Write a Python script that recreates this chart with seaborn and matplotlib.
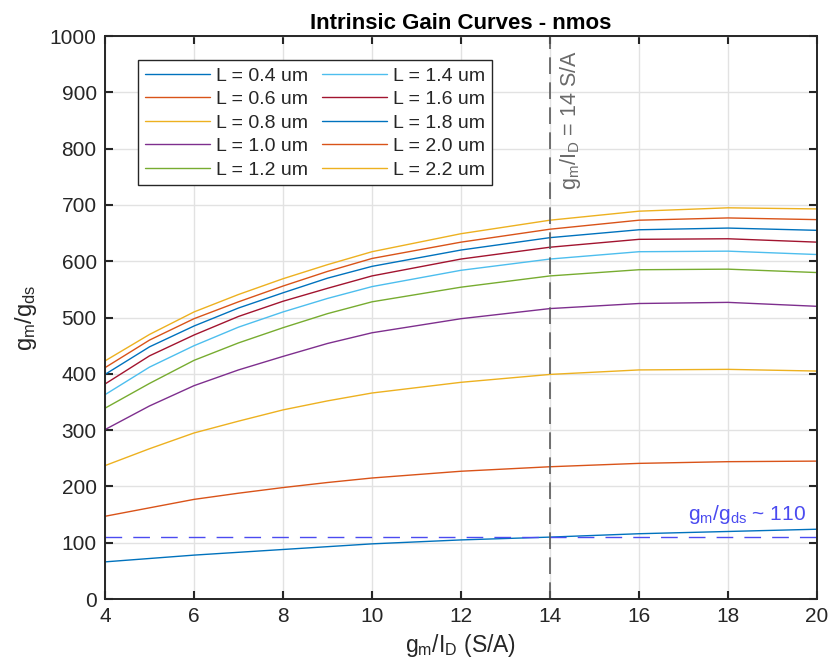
import numpy as np
import pandas as pd
import matplotlib
matplotlib.use("Agg")
import matplotlib.pyplot as plt
import seaborn as sns

# gm/ID sweep points (S/A)
gm_id = [4, 5, 6, 7, 8, 9, 10, 12, 14, 16, 18, 20]

# channel lengths (um)
lengths = [0.4, 0.6, 0.8, 1.0, 1.2, 1.4, 1.6, 1.8, 2.0, 2.2]

# intrinsic gain gm/gds for each channel length
gain_L04 = [66, 72, 78, 83, 88, 93, 98, 105, 110, 116, 120, 124]
gain_L06 = [147, 162, 177, 188, 198, 207, 215, 227, 235, 241, 244, 245]
gain_L08 = [237, 267, 295, 316, 336, 352, 366, 385, 399, 407, 408, 405]
gain_L10 = [301, 343, 379, 407, 431, 454, 473, 498, 516, 525, 527, 520]
gain_L12 = [339, 383, 424, 455, 482, 507, 528, 554, 574, 585, 586, 580]
gain_L14 = [363, 412, 450, 483, 510, 534, 555, 584, 604, 617, 618, 612]
gain_L16 = [382, 432, 469, 502, 529, 552, 574, 604, 625, 639, 640, 634]
gain_L18 = [399, 448, 485, 517, 544, 570, 591, 620, 642, 656, 659, 655]
gain_L20 = [411, 460, 498, 528, 556, 582, 605, 634, 657, 673, 677, 674]
gain_L22 = [423, 470, 510, 541, 569, 594, 617, 649, 673, 689, 695, 693]

gains = [gain_L04, gain_L06, gain_L08, gain_L10, gain_L12,
         gain_L14, gain_L16, gain_L18, gain_L20, gain_L22]

gm_id_target = 14
gain_target = 110

labels = [f"L = {L:.1f} um" for L in lengths]
frames = []
for lab, g in zip(labels, gains):
    frames.append(pd.DataFrame({"gm_id": gm_id, "gain": g, "L": lab}))
df = pd.concat(frames, ignore_index=True)

palette = ["#0072BD", "#D95319", "#EDB120", "#7E2F8E", "#77AC30",
           "#4DBEEE", "#A2142F", "#0072BD", "#D95319", "#EDB120"]

sns.set_theme(style="white")
plt.rcParams["font.family"] = ["Liberation Sans", "DejaVu Sans"]
plt.rcParams["mathtext.fontset"] = "custom"
plt.rcParams["mathtext.rm"] = "Liberation Sans"

fig = plt.figure(figsize=(8.32, 6.69), dpi=100)
ax = fig.add_axes([0.1262, 0.1046, 0.8558, 0.8414])

sns.lineplot(data=df, x="gm_id", y="gain", hue="L", hue_order=labels,
             palette=palette, linewidth=1.0, ax=ax, sort=False)

# reference lines
ax.axhline(gain_target, color="#4B4BF0", linewidth=1.0, dashes=(12, 8))
ax.axvline(gm_id_target, color="#5A5A5A", linewidth=1.2, dashes=(10, 5))

ax.text(17.1, 140, r"$\mathregular{g_m/g_{ds}}$ ~ 110", color="#4B4BF0",
        fontsize=15, ha="left", va="baseline")
ax.text(14.47, 727, r"$\mathregular{g_m/I_D}$ = 14 S/A", color="#6A6A6A",
        fontsize=15.5, ha="center", va="bottom", rotation=90)

ax.set_xlim(4, 20)
ax.set_ylim(0, 1000)
ax.set_xticks(np.arange(4, 21, 2))
ax.set_yticks(np.arange(0, 1001, 100))
ax.grid(True, color="#E2E2E2", linewidth=1.0)
ax.set_axisbelow(True)

ax.tick_params(direction="in", length=6, width=1.5, colors="#262626",
               labelsize=15, top=True, right=True, bottom=True, left=True,
               pad=6)
for sp in ax.spines.values():
    sp.set_visible(True)
    sp.set_color("#262626")
    sp.set_linewidth(1.4)

ax.set_xlabel(r"$\mathregular{g_m/I_D}$ (S/A)", fontsize=16.5,
              color="#262626", labelpad=4)
ax.set_ylabel(r"$\mathregular{g_m/g_{ds}}$", fontsize=17, color="#262626",
              labelpad=8)
ax.set_title("Intrinsic Gain Curves - nmos", fontsize=16, fontweight="bold",
             color="black", pad=5)

leg = ax.legend(ncol=2, loc="upper left", bbox_to_anchor=(0.046, 0.957),
                fontsize=14, frameon=True, fancybox=False, handlelength=3.35,
                handletextpad=0.3, columnspacing=0.75, labelspacing=0.3,
                borderpad=0.35, borderaxespad=0.0)
leg.get_frame().set_edgecolor("#262626")
leg.get_frame().set_linewidth(1.0)
leg.get_frame().set_alpha(1.0)
for line in leg.get_lines():
    line.set_linewidth(1.0)

fig.savefig("out.png", dpi=100)
